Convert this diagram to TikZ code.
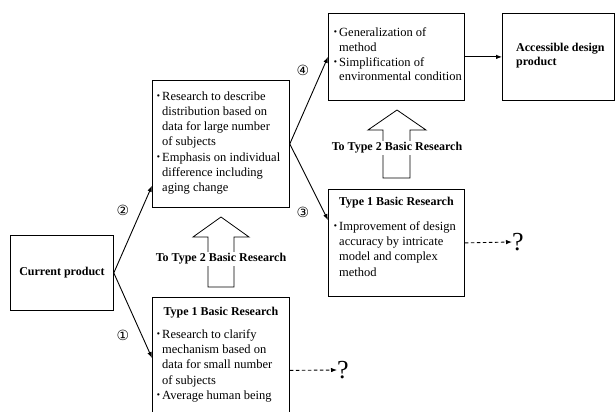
\documentclass[tikz,border=0pt]{standalone}
\usepackage{fontspec}
\setmainfont{Liberation Serif}
\newfontfamily\circfont{DejaVu Sans}
\usetikzlibrary{arrows.meta}
\newcommand{\bitem}{\makebox[6pt][l]{\fontsize{14}{14}\selectfont\textbf{·}}}
\newcommand{\bcont}{\hspace*{6pt}}
\begin{document}
\begin{tikzpicture}[x=1pt,y=-1pt,
  box/.style={draw, line width=0.8pt, inner sep=0pt, anchor=north west},
  txt/.style={inner sep=0pt, anchor=north west, align=left,
    font=\fontsize{12.5}{15.2}\selectfont},
  ttl/.style={inner sep=0pt, font=\bfseries\fontsize{12}{14}\selectfont},
  conn/.style={line width=0.9pt, -{Latex[length=6pt,width=4.5pt]}},
  dconn/.style={line width=0.9pt, dash pattern=on 3.5pt off 2.5pt, -{Latex[length=6pt,width=4.5pt]}},
  circ/.style={font=\circfont\fontsize{14}{14}\selectfont, inner sep=0pt},
  qmark/.style={font=\fontsize{26}{26}\selectfont, inner sep=0pt, anchor=west},
  hollow/.style={draw, line width=0.8pt, fill=white},
  tolabel/.style={fill=white, inner sep=1.5pt, font=\bfseries\fontsize{12}{14}\selectfont}
]
\useasboundingbox (0,0) rectangle (616,412);
\clip (0,0) rectangle (616,412);

% boxes
\node[box, minimum width=103pt, minimum height=75pt, font=\bfseries\fontsize{12}{14}\selectfont] (cur) at (10,235) {Current product};
\node[box, minimum width=137pt, minimum height=127pt] (mid) at (152,80) {};
\node[box, minimum width=136pt, minimum height=87pt] (gen) at (328,13) {};
\node[box, minimum width=112pt, minimum height=87pt] (acc) at (502,13) {};
\node[box, minimum width=136pt, minimum height=107pt] (t1r) at (328,189) {};
\node[box, minimum width=137pt, minimum height=118pt] (t1l) at (152,297) {};

% box texts
\node[txt] (midtxt) at (156,91.5)
  {\bitem Research to describe\\ \bcont distribution based on\\ \bcont data for large number\\ \bcont of subjects\\
   \bitem Emphasis on individual\\ \bcont difference including\\ \bcont aging change};
\node[txt, font=\fontsize{12.5}{14.8}\selectfont] (gentxt) at (333,27.5)
  {\bitem Generalization of\\ \bcont method\\ \bitem Simplification of\\ \bcont environmental condition};
\node[txt, font=\bfseries\fontsize{12}{14}\selectfont] (acctxt) at (516,43)
  {Accessible design\\ product};
\node[ttl] (t1rttl) at ([yshift=-14pt]t1r.north) {Type 1 Basic Research};
\node[txt] (t1rtxt) at (333,221.5)
  {\bitem Improvement of design\\ \bcont accuracy by intricate\\ \bcont model and complex\\ \bcont method};
\node[ttl] (t1lttl) at ([yshift=-16pt]t1l.north) {Type 1 Basic Research};
\node[txt] (t1ltxt) at (156,329.5)
  {\bitem Research to clarify\\ \bcont mechanism based on\\ \bcont data for small number\\ \bcont of subjects\\
   \bitem Average human being};

% connectors
\draw[conn] (cur.east) -- ([yshift=22pt]mid.south west);
\draw[conn] (cur.east) -- ([yshift=-61pt]t1l.north west);
\draw[conn] (mid.east) -- (gen.west);
\draw[conn] (mid.east) -- ([yshift=-31pt]t1r.north west);
\draw[conn] (gen.east) -- (acc.west);

% circled numbers
\node[circ] (n1) at (123,335) {①};
\node[circ] (n2) at (123,210) {②};
\node[circ] (n3) at (303,212) {③};
\node[circ] (n4) at (303,70) {④};

% question marks
\node[qmark] (q1) at (512,242) {?};
\node[qmark] (q2) at (337,370) {?};
\draw[dconn] (t1r.east) -- (q1.west);
\draw[dconn] ([yshift=-14pt]t1l.east) -- (q2.west);

% hollow arrows
\draw[hollow] (383,178) -- (383,130) -- (368,130) -- (397,110) -- (426,130) -- (410,130) -- (410,178) -- cycle;
\node[tolabel] (lab1) at (397,148) {To Type 2 Basic Research};
\draw[hollow] (208,287) -- (208,237) -- (193,237) -- (221,217) -- (249,237) -- (234,237) -- (234,287) -- cycle;
\node[tolabel] (lab2) at (221,259) {To Type 2 Basic Research};
\end{tikzpicture}
\end{document}
